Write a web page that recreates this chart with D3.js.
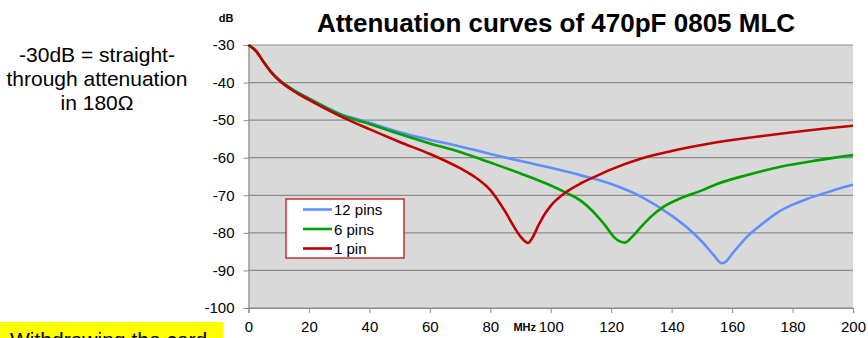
<!DOCTYPE html>
<html>
<head>
<meta charset="utf-8">
<script src="https://cdn.jsdelivr.net/npm/d3@7"></script>
<style>
    body { margin: 0; background: white; }
    svg { display: block; font-family: Arial, "Liberation Sans", sans-serif; }
</style>
</head>
<body>
<div id="graphique"></div>
<script>
// Donnees (MHz, dB)
const freq12 = [0, 2.5, 5, 7.5, 10, 15, 20, 30, 40, 50, 60, 70, 80, 90, 100, 110, 120, 130, 140, 145, 150, 154, 156.6, 158, 160, 165, 170, 175, 180, 185, 190, 195, 200];
const att12  = [-30, -31.6, -34.5, -37.2, -39.2, -42.0, -44.2, -48.2, -50.7, -53.2, -55.2, -57.0, -59.0, -60.9, -62.7, -64.7, -67.0, -70.4, -75.4, -78.5, -82.3, -86.0, -88.1, -87.6, -85.6, -81.0, -77.6, -74.6, -72.5, -70.9, -69.6, -68.3, -67.2];

const freq6 = [0, 2.5, 5, 7.5, 10, 15, 20, 30, 40, 50, 60, 70, 80, 90, 100, 105, 110, 115, 118, 121, 124.5, 127, 130, 133, 137, 143, 150, 155, 165, 176, 188, 200];
const att6  = [-30, -31.6, -34.5, -37.2, -39.2, -42.1, -44.3, -48.4, -51.0, -53.7, -56.2, -58.5, -61.3, -64.2, -67.4, -69.3, -71.5, -75.2, -78.0, -81.2, -82.6, -81.0, -78.3, -75.8, -73.2, -70.8, -68.7, -67.0, -64.6, -62.4, -60.7, -59.3];

const freq1 = [0, 2.5, 5, 7.5, 10, 15, 20, 30, 40, 50, 60, 70, 75, 80, 85, 88, 90, 92.5, 94, 96, 98, 100, 105, 110, 115, 120, 130, 140, 150, 160, 170, 180, 190, 200];
const att1  = [-30, -31.6, -34.5, -37.2, -39.3, -42.3, -44.6, -48.8, -52.4, -55.8, -59.0, -62.8, -65.2, -68.6, -74.4, -78.6, -81.0, -82.7, -81.2, -77.9, -75.0, -72.8, -69.2, -66.8, -64.9, -63.1, -60.2, -58.2, -56.6, -55.3, -54.2, -53.2, -52.3, -51.5];

const series = ["12 pins", "6 pins", "1 pin"];
const couleurs = ["#5f8fff", "#00a000", "#c00000"];
const ticksX = [0, 20, 40, 60, 80, 100, 120, 140, 160, 180, 200];
const ticksY = [-100, -90, -80, -70, -60, -50, -40, -30];

const svg = d3.select("#graphique")
    .append("svg")
    .attr("width", 868)
    .attr("height", 338);

const x = d3.scaleLinear().domain([0, 200]).range([248.5, 853]);
const y = d3.scaleLinear().domain([-100, -30]).range([308, 45]);

// Fond gris de la zone de trace
svg.append("rect")
    .attr("x", x(0)).attr("y", y(-30))
    .attr("width", x(200) - x(0)).attr("height", y(-100) - y(-30))
    .attr("fill", "#d9d9d9");

// Grille horizontale
svg.append("g")
    .selectAll("line")
    .data(ticksY)
    .join("line")
    .attr("x1", x(0)).attr("x2", x(200))
    .attr("y1", d => y(d)).attr("y2", d => y(d))
    .attr("stroke", "#8c8c8c")
    .attr("stroke-width", 1.2);

// Axes (tiret simple pour le signe moins, comme dans Excel)
const axeY = svg.append("g")
    .attr("transform", "translate(" + x(0) + ",0)")
    .call(d3.axisLeft(y).tickValues(ticksY).tickFormat(d => String(d)).tickSize(5).tickPadding(9));
const axeX = svg.append("g")
    .attr("transform", "translate(0," + y(-100) + ")")
    .call(d3.axisBottom(x).tickValues(ticksX).tickFormat(d => String(d)).tickSize(5).tickPadding(8));

[axeY, axeX].forEach(a => {
    a.select(".domain").attr("stroke", "#8c8c8c").attr("stroke-width", 1.2);
    a.selectAll(".tick line").attr("stroke", "#8c8c8c");
    a.selectAll("text")
        .attr("font-family", "Arial, 'Liberation Sans', sans-serif")
        .attr("font-size", 15)
        .attr("fill", "#000");
});

// Courbes
const ligne = d3.line()
    .x(d => x(d[0]))
    .y(d => y(d[1]))
    .curve(d3.curveMonotoneX);

const donnees = [
    d3.zip(freq12, att12),
    d3.zip(freq6, att6),
    d3.zip(freq1, att1)
];

svg.append("g")
    .selectAll("path")
    .data(donnees)
    .join("path")
    .attr("d", ligne)
    .attr("fill", "none")
    .attr("stroke", (d, i) => couleurs[i])
    .attr("stroke-width", 2.6)
    .attr("stroke-linejoin", "round");

// Titre
svg.append("text")
    .attr("x", 556).attr("y", 32)
    .attr("text-anchor", "middle")
    .attr("font-size", 26)
    .attr("font-weight", "bold")
    .text("Attenuation curves of 470pF 0805 MLC");

// Unites
svg.append("text")
    .attr("x", 226).attr("y", 22)
    .attr("text-anchor", "middle")
    .attr("font-size", 11)
    .attr("font-weight", "bold")
    .text("dB");
svg.append("text")
    .attr("x", 536).attr("y", 331)
    .attr("text-anchor", "end")
    .attr("font-size", 11)
    .attr("font-weight", "bold")
    .text("MHz");

// Legende
const legende = svg.append("g");
legende.append("rect")
    .attr("x", 286).attr("y", 199)
    .attr("width", 118).attr("height", 59)
    .attr("fill", "white")
    .attr("stroke", "#c00000")
    .attr("stroke-width", 1.2);
series.forEach((nom, i) => {
    let ly = 209.5 + i * 19.5;
    legende.append("line")
        .attr("x1", 303).attr("x2", 332)
        .attr("y1", ly).attr("y2", ly)
        .attr("stroke", couleurs[i])
        .attr("stroke-width", 2.6);
    legende.append("text")
        .attr("x", 334).attr("y", ly + 5.5)
        .attr("font-size", 15)
        .text(nom);
});

// Texte de gauche
const notes = ["-30dB = straight-", "through attenuation", "in 180\u03A9"];
svg.append("g")
    .selectAll("text")
    .data(notes)
    .join("text")
    .attr("x", 97)
    .attr("y", (d, i) => 62 + i * 24)
    .attr("text-anchor", "middle")
    .attr("font-size", 21)
    .text(d => d);

// Encadre jaune en bas (coupe par le bord comme dans l'original)
svg.append("rect")
    .attr("x", 0).attr("y", 322)
    .attr("width", 223).attr("height", 30)
    .attr("fill", "#ffff00");
svg.append("text")
    .attr("x", 10).attr("y", 347)
    .attr("font-size", 21)
    .text("Withdrawing the card");
</script>
</body>
</html>
